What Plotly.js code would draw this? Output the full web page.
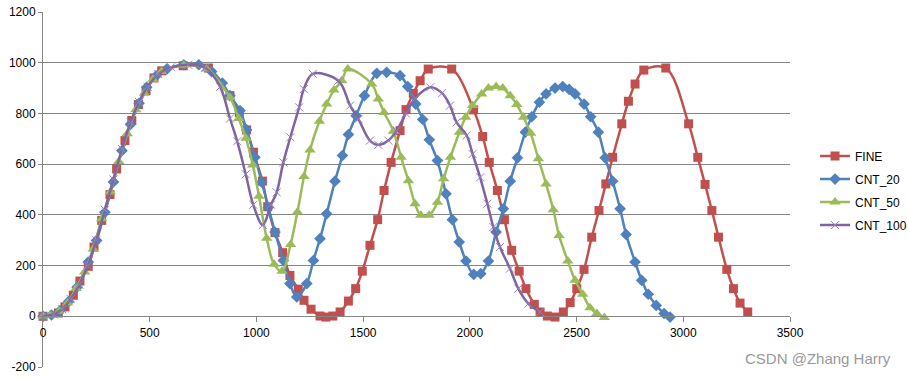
<!DOCTYPE html>
<html>
<head>
<meta charset="utf-8">
<script src="https://cdn.plot.ly/plotly-3.0.1.min.js"></script>
<style>html,body{margin:0;padding:0;background:#fff;}#chart{width:908px;height:378px;}</style>
</head>
<body>
<div id="chart"></div>
<script>
// Series names
const seriesNames = ["FINE", "CNT_20", "CNT_50", "CNT_100"];

// FINE
const fineX = [0,72,103,142,173,212,239,275,314,345,384,416,447,483,520,556,657,775,876,920,954,986,1028,1053,1087,1123,1157,1196,1223,1256,1298,1325,1358,1392,1431,1465,1496,1532,1568,1598,1631,1673,1701,1735,1767,1805,1915,2018,2060,2091,2129,2162,2196,2231,2263,2302,2329,2363,2399,2438,2470,2501,2535,2571,2605,2637,2669,2712,2743,2774,2815,2918,3025,3068,3102,3134,3165,3204,3235,3266,3302];
const fineY = [0,13,37,83,139,197,273,378,480,581,693,772,835,890,940,968,988,979,870,804,735,647,533,432,330,251,161,107,63,28,1,-3,1,17,60,109,178,280,381,496,607,732,815,879,929,975,975,814,709,607,496,381,260,178,109,47,17,1,-3,17,54,109,185,312,417,522,627,759,848,916,971,979,759,627,520,417,312,185,109,52,17];

// CNT_20
const cnt20X = [0,40,80,120,160,212,251,290,330,370,410,450,486,530,580,660,730,790,840,876,923,954,993,1025,1056,1087,1126,1157,1189,1236,1267,1298,1329,1368,1403,1431,1467,1506,1564,1610,1673,1709,1746,1779,1810,1848,1888,1918,1950,1982,2018,2051,2087,2123,2157,2189,2223,2260,2290,2326,2357,2399,2435,2465,2493,2535,2566,2602,2634,2669,2704,2732,2774,2805,2836,2873,2910,2938];
const cnt20Y = [0,5,22,58,115,214,299,410,530,653,757,840,903,948,975,992,992,965,920,870,811,735,627,529,430,332,220,129,76,129,220,306,404,533,634,717,791,870,958,962,949,906,837,776,696,614,483,381,293,218,165,168,218,332,424,533,625,726,787,844,877,900,906,895,877,837,787,726,625,533,424,323,214,142,87,43,11,-3];

// CNT_50
const cnt50X = [0,35,75,115,155,195,235,275,315,355,395,435,475,515,555,660,767,876,917,951,983,1012,1048,1083,1120,1160,1192,1223,1251,1295,1329,1363,1400,1428,1540,1571,1598,1642,1678,1712,1743,1770,1809,1848,1877,1909,1951,1980,2013,2055,2087,2123,2154,2189,2220,2251,2285,2321,2357,2391,2418,2459,2493,2529,2563,2595,2630];
const cnt50Y = [0,5,20,52,110,175,265,385,490,610,720,815,880,935,965,990,975,863,780,702,597,473,308,205,178,283,411,551,656,769,837,892,929,975,916,857,804,730,627,535,444,398,398,450,542,627,726,785,831,877,900,906,900,870,835,785,722,621,522,420,319,218,142,87,34,11,-5];

// CNT_100
const cnt100X = [0,50,90,130,170,210,250,290,330,370,410,450,490,540,600,680,760,830,876,910,950,985,1030,1068,1095,1126,1159,1200,1222,1264,1384,1439,1478,1532,1571,1618,1657,1700,1745,1814,1870,1907,1938,1985,2013,2048,2082,2110,2141,2188,2227,2274,2329];
const cnt100Y = [0,8,28,68,125,200,300,420,540,660,765,845,905,955,982,992,980,905,780,690,560,440,360,440,489,607,706,824,896,956,929,831,778,693,676,693,732,800,860,903,880,831,765,713,640,548,444,352,273,188,109,50,17];

// Axis ticks
const xTicks = [0,500,1000,1500,2000,2500,3000,3500];
const yTicks = [-200,0,200,400,600,800,1000,1200];

const FONT = "Liberation Sans, Arial, sans-serif";
const gridC = "#868686";

function tr(name, x, y, color, marker, group) {
  return {
    type: "scatter", mode: "lines+markers", name: name, x: x, y: y,
    legendgroup: group,
    line: {color: color, width: 2.5, shape: "spline", smoothing: 1},
    marker: marker, cliponaxis: false
  };
}

const data = [
  tr(seriesNames[0], fineX, fineY, "#C0504D", {symbol: "square", size: 9, color: "#C0504D"}, "a"),
  tr(seriesNames[1], cnt20X, cnt20Y, "#4F81BD", {symbol: "diamond", size: 9, color: "#4F81BD"}, "b"),
  tr(seriesNames[2], cnt50X, cnt50Y, "#9BBB59", {symbol: "triangle-up", size: 10, color: "#9BBB59"}, "c"),
  tr(seriesNames[3], cnt100X, cnt100Y, "#8064A2", {symbol: "x-thin-open", size: 8, color: "#9480BC", line: {width: 1, color: "#9480BC"}}, "d")
];

const layout = {
  width: 908, height: 378,
  margin: {l: 43, r: 118, t: 12, b: 11},
  paper_bgcolor: "#ffffff", plot_bgcolor: "#ffffff",
  font: {family: FONT, size: 12, color: "#000000"},
  showlegend: true,
  legend: {
    xref: "container", yref: "container",
    x: 0.8976, xanchor: "left", y: 0.6254, yanchor: "top",
    traceorder: "grouped", tracegroupgap: 4,
    font: {family: FONT, size: 12, color: "#000000"},
    bgcolor: "rgba(0,0,0,0)"
  },
  xaxis: {
    range: [0, 3500], tickvals: xTicks, ticktext: xTicks.map(String),
    anchor: "free", position: 1/7,
    showline: true, linecolor: gridC, linewidth: 1,
    ticks: "outside", ticklen: 5, tickcolor: gridC,
    showgrid: false, zeroline: false,
    tickfont: {family: FONT, size: 12, color: "#000"}
  },
  yaxis: {
    range: [-200, 1200], tickvals: yTicks, ticktext: yTicks.map(String),
    showline: true, linecolor: gridC, linewidth: 1,
    ticks: "outside", ticklen: 4, tickcolor: gridC,
    showgrid: true, gridcolor: gridC, gridwidth: 1,
    zeroline: false,
    tickfont: {family: FONT, size: 12, color: "#000"}
  },
  annotations: [{
    text: "CSDN @Zhang Harry", xref: "paper", yref: "paper",
    x: 1.138, y: 0.025, xanchor: "right", yanchor: "middle", showarrow: false,
    font: {family: FONT, size: 15, color: "#999999"}
  }]
};

Plotly.newPlot("chart", data, layout, {displayModeBar: false, staticPlot: true});
</script>
</body>
</html>
